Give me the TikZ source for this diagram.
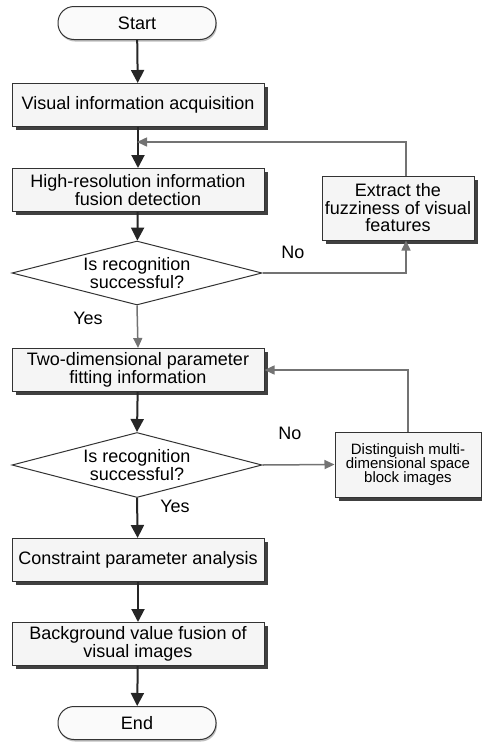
\documentclass[tikz,border=0pt]{standalone}
\usepackage{fontspec}
\setmainfont{Liberation Sans}
\usetikzlibrary{arrows.meta, shapes.geometric, shadows}

\begin{document}
\begin{tikzpicture}[x=1pt, y=-1pt, line width=1pt,
        font=\fontsize{18}{17.5}\selectfont,
        terminal/.style={draw=black!80, fill=gray!4, rounded corners=16pt, minimum width=158pt, minimum height=33pt,
            drop shadow={shadow xshift=1pt, shadow yshift=-2pt, fill=black!25, opacity=1}},
        process/.style={draw=black!80, fill=gray!8, minimum width=252pt, minimum height=43pt, align=center, inner sep=1pt,
            drop shadow={shadow xshift=3.5pt, shadow yshift=-3.5pt, fill=black!75, opacity=1}},
        decision/.style={draw=black!80, fill=white, diamond, aspect=4, inner sep=0pt, minimum width=250pt, minimum height=64pt, align=center},
        flow/.style={line width=2pt, black!85, -{Triangle[length=13pt, width=13pt]}},
        back/.style={line width=1.5pt, black!55, -{Triangle[length=10pt, width=9pt]}}]
        \useasboundingbox (0,0) rectangle (482,745);

        \node[terminal] (start) at (137,23) {Start};
        \node[process] (acq) at (138,105) {Visual information acquisition};
        \node[process] (fus) at (138,190) {High-resolution information\\fusion detection};
        \node[decision] (rec1) at (137,273) {Is recognition\\successful?};
        \node[process, minimum width=152pt, minimum height=64pt] (fuzz) at (398,208) {Extract the\\fuzziness of visual\\features};
        \node[process] (fit) at (138,370) {Two-dimensional parameter\\fitting information};
        \node[decision, minimum height=65pt] (rec2) at (137,465) {Is recognition\\successful?};
        \node[process, minimum width=146pt, minimum height=65pt, font=\fontsize{15}{14}\selectfont] (blk) at (408,464.5) {Distinguish multi-\\dimensional space\\block images};
        \node[process] (cons) at (138,560) {Constraint parameter analysis};
        \node[process] (bgv) at (138,644) {Background value fusion of\\visual images};
        \node[terminal] (end) at (137,723) {End};

        \node (no1) at (293,252) {No};
        \node (yes1) at (88,318) {Yes};
        \node (no2) at (290,433) {No};
        \node (yes2) at (175,506) {Yes};

        \coordinate (j1) at (137,142);
        \coordinate (f1) at (406,142);

        \draw[flow] (start) -- (acq);
        \draw[flow] (acq) -- (fus);
        \draw[flow] (fus) -- (rec1);
        \draw[back] (rec1.south) -- (fit.north);
        \draw[flow] (fit) -- (rec2.north);
        \draw[flow] (rec2.south) -- (cons);
        \draw[flow] (cons) -- (bgv);
        \draw[flow] (bgv) -- (end);

        \draw[back] (rec1.east) -| (f1 |- fuzz.south);
        \draw[back] (fuzz.north -| f1) -- (f1) -- (j1);
        \draw[back] (rec2.east) -- (blk.west);
        \draw[back] (blk.north) |- (fit.east);
    \end{tikzpicture}
\end{document}
